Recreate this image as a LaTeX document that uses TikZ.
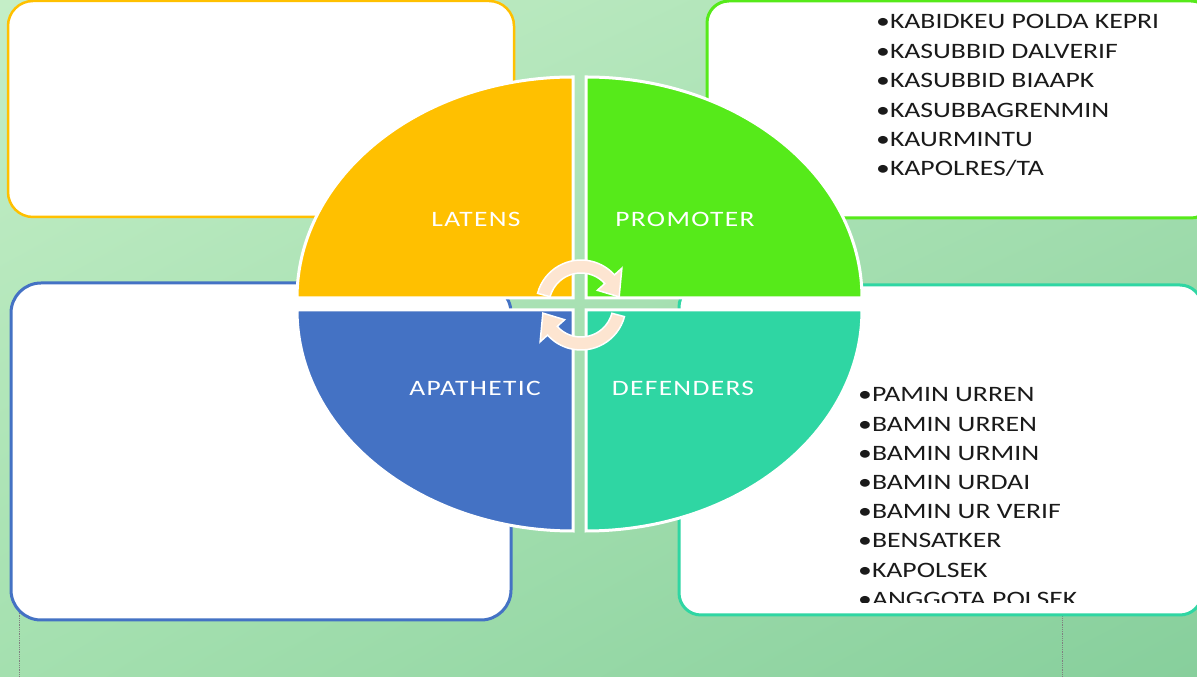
\documentclass[tikz,border=0pt]{standalone}
\usepackage{fontspec}
\setmainfont{Carlito}
\newfontfamily\quadfont[FakeStretch=1.25,LetterSpace=6]{Carlito}
\newfontfamily\listfont[FakeStretch=1.26]{Carlito}
\usetikzlibrary{calc, shadings}
\definecolor{QYellow}{HTML}{FFC000}
\definecolor{QGreen}{HTML}{56EA1A}
\definecolor{QBlue}{HTML}{4472C4}
\definecolor{QTeal}{HTML}{2FD6A3}
\definecolor{QPeach}{HTML}{FDE5D1}
\definecolor{BgUL}{HTML}{C4EEC7}
\definecolor{BgUR}{HTML}{A9E1B3}
\definecolor{BgLL}{HTML}{A4E0AF}
\definecolor{BgLR}{HTML}{87CF9C}
\definecolor{ListInk}{HTML}{1A1A1A}
\tikzset{
   infobox/.style={draw=#1, fill=white, line width=3pt},
   quadrant/.style={draw=white, line width=3pt},
   quadlabel/.style={text=white, font=\quadfont\fontsize{22}{26}\selectfont, anchor=base, inner sep=0pt},
   listitem/.style={text=ListInk, font=\listfont\fontsize{22}{29}\selectfont, anchor=base west, inner sep=0pt},
   cycarrow/.style={fill=QPeach, draw=white, line width=1.5pt},
   hidden link/.style={densely dotted, gray, line width=0.8pt}
}

\begin{document}
\begin{tikzpicture}[x=1pt, y=1pt]
            \useasboundingbox (0,0) rectangle (1197,677);
            \clip (0,0) rectangle (1197,677);
            % Background
            \shade[upper left=BgUL, upper right=BgUR, lower left=BgLL, lower right=BgLR]
               (0,0) rectangle (1197,677);
            % Links running under the boxes
            \coordinate (lefttop) at (19,120);
            \coordinate (leftfoot) at (19,0);
            \coordinate (righttop) at (1062,120);
            \coordinate (rightfoot) at (1062,0);
            \draw[hidden link] (lefttop) -- (leftfoot);
            \draw[hidden link] (righttop) -- (rightfoot);
            % Boxes
            \draw[infobox=QYellow, line width=2.5pt, rounded corners=25pt] (8,460) rectangle (514,676);
            \draw[infobox=QGreen, rounded corners=22pt] (707,459) rectangle (1213,676);
            \draw[infobox=QBlue, rounded corners=30pt] (11,57) rectangle (511,394);
            \draw[infobox=QTeal, rounded corners=22pt] (679,62) rectangle (1202,392);
            % Quadrants
            \filldraw[quadrant, fill=QYellow] (573,379) -- (297,379)
               arc[start angle=180, end angle=90, x radius=276, y radius=221] -- cycle;
            \filldraw[quadrant, fill=QGreen] (586,379) -- (586,600)
               arc[start angle=90, end angle=0, x radius=276, y radius=221] -- cycle;
            \filldraw[quadrant, fill=QBlue] (573,367) -- (297,367)
               arc[start angle=180, end angle=270, x radius=276, y radius=221] -- cycle;
            \filldraw[quadrant, fill=QTeal] (586,367) -- (586,146)
               arc[start angle=270, end angle=360, x radius=276, y radius=221] -- cycle;
            % Cycle arrows
            \coordinate (cyc) at (581,372);
            \foreach \turn in {0,180}{
               \begin{scope}[shift={(cyc)}, rotate=\turn]
                  \filldraw[cycarrow] (165:45) arc[start angle=165, end angle=42, radius=45]
                     -- (42:55) -- (12:39) -- (42:22) -- (42:32)
                     arc[start angle=42, end angle=165, radius=32] -- cycle;
               \end{scope}
            }
            % Quadrant labels
            \node[quadlabel] (latens) at (476,450) {LATENS};
            \node[quadlabel] (promoter) at (685,450) {PROMOTER};
            \node[quadlabel] (apathetic) at (475,281) {APATHETIC};
            \node[quadlabel] (defenders) at (683,281) {DEFENDERS};
            % Promoter list
            \foreach \entry [count=\i] in {KABIDKEU POLDA KEPRI, KASUBBID DALVERIF,
               KASUBBID BIAAPK, KASUBBAGRENMIN, KAURMINTU, KAPOLRES/TA}
               \node[listitem] (promo\i) at (876,{648-29.4*(\i-1)}) {•\entry};
            % Defenders list, cut at the foot of the box
            \begin{scope}
               \clip (679,74) rectangle (1197,392);
               \foreach \entry [count=\i] in {PAMIN URREN, BAMIN URREN, BAMIN URMIN,
                  BAMIN URDAI, BAMIN UR VERIF, BENSATKER, KAPOLSEK, ANGGOTA POLSEK}
                  \node[listitem] (defend\i) at (858,{275-29.2*(\i-1)}) {•\entry};
            \end{scope}
\end{tikzpicture}
\end{document}
